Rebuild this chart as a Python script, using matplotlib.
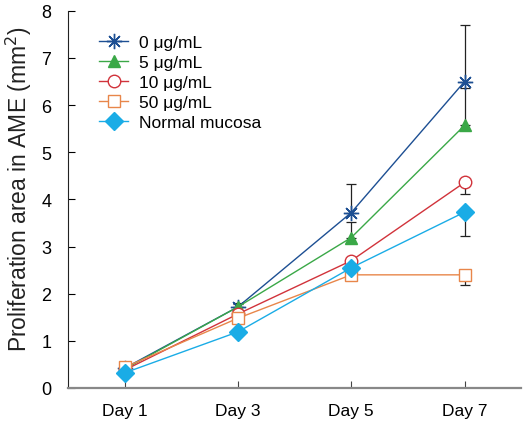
import matplotlib.pyplot as plt
import numpy as np

plt.rcParams['font.family'] = ['Liberation Sans', 'DejaVu Sans']

days = ['Day 1', 'Day 3', 'Day 5', 'Day 7']
x = np.arange(1, 5)

labels = ['0 μg/mL', '5 μg/mL', '10 μg/mL', '50 μg/mL', 'Normal mucosa']
vals_0 = [0.42, 1.72, 3.72, 6.50]
vals_5 = [0.40, 1.72, 3.19, 5.57]
vals_10 = [0.38, 1.57, 2.70, 4.36]
vals_50 = [0.44, 1.48, 2.40, 2.40]
vals_nm = [0.32, 1.19, 2.55, 3.73]

# one-sided error bars (up for top series, down for the lower ones)
err_0_up = [0.12, 0.08, 0.60, 1.19]
err_5_up = [0.05, 0.06, 0.33, 0.80]
err_10_dn = [0.05, 0.05, 0.05, 0.24]
err_50_dn = [0.05, 0.05, 0.05, 0.21]
err_nm_dn = [0.03, 0.04, 0.05, 0.50]

colors = ['#1d4f93', '#3aa847', '#d1333b', '#e8864a', '#1aace6']

fig = plt.figure(figsize=(5.27, 4.31), dpi=100)
ax = fig.add_axes([0.129, 0.0975, 0.86, 0.875])

z = np.zeros(4)
series = [
    (vals_0, [z, err_0_up], dict(marker=(8, 2, 0), markersize=11, mfc=colors[0], mec=colors[0], mew=1.0)),
    (vals_5, [z, err_5_up], dict(marker='^', markersize=9, mfc=colors[1], mec=colors[1])),
    (vals_10, [err_10_dn, z], dict(marker='o', markersize=9, mfc='white', mec=colors[2], mew=1.0)),
    (vals_50, [err_50_dn, z], dict(marker='s', markersize=9, mfc='white', mec=colors[3], mew=1.0)),
    (vals_nm, [err_nm_dn, z], dict(marker='D', markersize=9, mfc=colors[4], mec=colors[4])),
]

for i, (v, e, mk) in enumerate(series):
    ax.errorbar(x, v, yerr=e, fmt='none', ecolor='#222222', elinewidth=0.9, capsize=3.5, capthick=0.9, zorder=2)
for i, (v, e, mk) in enumerate(series):
    ax.plot(x, v, '-', color=colors[i], lw=1.0, label=labels[i], zorder=3 + i, **mk)

ax.set_xlim(0.5, 4.5)
ax.set_ylim(0, 8)
ax.set_xticks(x)
ax.set_xticklabels(days)
ax.set_yticks(range(0, 9))
ax.set_ylabel('Proliferation area in AME (mm$^2$)', fontsize=16.5, color='#222222')
ax.yaxis.set_label_coords(-0.074, 0.53)

for s in ['top', 'right']:
    ax.spines[s].set_visible(False)
ax.spines['left'].set_color('#222222')
ax.spines['bottom'].set_color('#888888')
ax.spines['bottom'].set_linewidth(1.6)
ax.tick_params(axis='y', direction='in', length=5, width=0.8, pad=12, labelsize=13)
ax.tick_params(axis='x', direction='in', length=5, width=0.8, pad=11, labelsize=12.5, color='#444444')

ax.legend(loc='upper left', bbox_to_anchor=(0.045, 0.965), frameon=False, fontsize=12.5,
          handlelength=1.7, handletextpad=0.6, labelspacing=0.28, borderaxespad=0.2)

fig.savefig('out.png', dpi=100)
